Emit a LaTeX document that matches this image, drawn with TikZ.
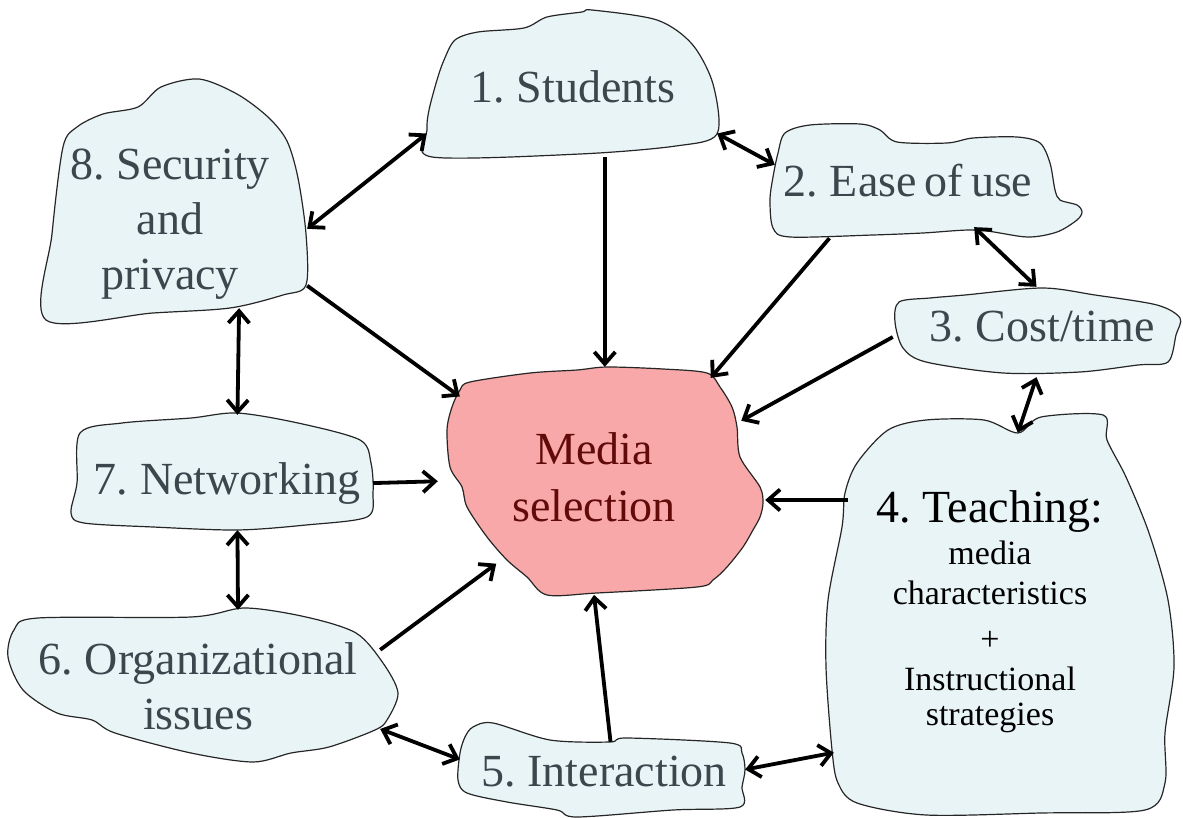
\documentclass[tikz,border=0pt]{standalone}
\usepackage{fontspec}
\setmainfont{Liberation Serif}
\usetikzlibrary{arrows.meta,shapes.geometric}
\definecolor{blobfill}{RGB}{233,244,246}
\definecolor{selfill}{RGB}{248,168,168}
\definecolor{labelgray}{RGB}{58,72,78}
\definecolor{seltext}{RGB}{98,10,10}
\newcommand{\lblspace}{\spaceskip=8pt plus 2pt\relax}

\begin{document}
\begin{tikzpicture}[x=1pt,y=-1pt,
  blob/.style={draw=black!85, line width=1.2pt, fill=blobfill},
  area/.style 2 args={rectangle, draw=none, inner sep=0pt, minimum width=#1, minimum height=#2},
  lbl/.style={text=labelgray, align=center, inner sep=0pt, font=\fontsize{46}{55}\selectfont\lblspace},
  link/.style={line width=3.8pt, -{Straight Barb[length=12pt,width=21pt]}},
  both/.style={line width=3.8pt, {Straight Barb[length=12pt,width=21pt]}-{Straight Barb[length=12pt,width=21pt]}}]
\useasboundingbox (0,0) rectangle (1183,818);
\draw[blob] plot[smooth cycle, tension=0.5] coordinates {(46,320) (52,234) (63,147) (77,127) (103,114) (138,107) (161,87) (199,79) (237,94) (268,117) (287,141) (298,178) (306,234) (306,285) (283,295) (230,308) (153,313)};
\draw[blob] plot[smooth cycle, tension=0.5] coordinates {(432,157) (427,130) (429,110) (437,80) (444,60) (455,40) (478,32) (524,28) (547,17) (582,12) (592,10) (657,20) (692,44) (713,84) (717,134) (676,146) (580,154)};
\draw[blob] plot[smooth cycle, tension=0.5] coordinates {(785,133) (810,125) (860,124) (880,130) (897,142) (947,143) (973,138) (1017,137) (1040,143) (1050,163) (1055,190) (1060,200) (1077,205) (1082,212) (1077,220) (1057,232) (1027,237) (977,230) (923,233) (873,235) (790,237) (773,228) (770,200) (773,177) (778,153)};
\draw[blob] plot[smooth cycle, tension=0.5] coordinates {(899,302) (930,298) (965,295) (1042,288) (1095,295) (1157,305) (1180,318) (1176,335) (1168,362) (1138,365) (1080,372) (1003,373) (926,362) (903,348) (895,322)};
\draw[blob] plot[smooth cycle, tension=0.5] coordinates {(845,493) (857,463) (888,430) (926,420) (984,420) (1018,433) (1041,417) (1103,415) (1107,440) (1126,477) (1149,533) (1168,600) (1174,667) (1165,733) (1165,783) (1145,810) (1041,813) (926,815) (857,803) (838,783) (832,750) (826,667) (828,600) (842,527)};
\draw[blob] plot[smooth cycle, tension=0.5] coordinates {(473,727) (493,723) (550,740) (610,742) (627,738) (730,743) (742,753) (745,770) (742,787) (740,807) (673,810) (577,817) (557,810) (507,802) (467,793) (458,780) (460,753) (465,737)};
\draw[blob] plot[smooth cycle, tension=0.5] coordinates {(38,618) (191,617) (245,608) (306,617) (356,633) (383,663) (398,693) (387,720) (375,730) (329,747) (291,753) (253,762) (191,753) (115,733) (92,720) (57,713) (23,690) (8,657) (14,630)};
\draw[blob] plot[smooth cycle, tension=0.5] coordinates {(80,433) (122,423) (191,418) (237,413) (298,423) (360,440) (371,463) (373,493) (367,517) (306,525) (237,530) (153,527) (84,523) (71,513) (77,483)};
\draw[blob, fill=selfill] plot[smooth cycle, tension=0.5] coordinates {(470,382) (530,373) (577,370) (607,367) (663,369) (707,373) (720,387) (732,407) (737,427) (740,457) (760,487) (763,503) (760,517) (753,530) (743,547) (727,567) (713,580) (697,587) (597,593) (547,595) (527,577) (507,560) (487,537) (467,507) (462,487) (450,467) (447,430) (452,407) (460,390)};
\node[area={263pt}{229pt}] (b8) at (175.5,193.5) {};
\node[area={290pt}{147pt}] (b1) at (572,83.5) {};
\node[area={307pt}{114pt}] (b2) at (928.5,181) {};
\node[area={287pt}{90pt}] (b3) at (1036.5,332) {};
\node[area={341pt}{382pt}] (b4) at (1004.5,624) {};
\node[area={285pt}{75pt}] (b5) at (602.5,779.5) {};
\node[area={372pt}{152pt}] (b6) at (194,686) {};
\node[area={302pt}{115pt}] (b7) at (222,472.5) {};
\node[ellipse, draw=none, inner sep=0pt, minimum width=318pt, minimum height=228pt] (sel) at (606,481) {};
\node[lbl] (l1) at (573,87) {1. Students};
\node[lbl] (l2) at (908,181) {2. Ease of use};
\node[lbl] (l3) at (1042,327) {3. Cost/time};
\node[lbl, text=black, font=\fontsize{34}{40}\selectfont\lblspace] (l4) at (990,612) {{\fontsize{46}{46}\selectfont 4. Teaching:}\\[2pt] media\\ characteristics\\[6pt] +\\ Instructional\\[-5pt] strategies};
\node[lbl] (l5) at (604,772) {5. Interaction};
\node[lbl] (l6) at (198,686) {6. Organizational\\ issues};
\node[lbl] (l7) at (227,484) {7. Networking};
\node[lbl] (l8) at (170,224) {8. Security\\ and\\ privacy};
\node[lbl, text=seltext, font=\fontsize{46}{57}\selectfont] (lsel) at (594,477) {Media\\ selection};
\draw[both] (b8.-15.9) -- (b1.199.2);
\draw[link] (b1.-66.5) -- (b1.-66.5 |- sel.north);
\draw[both] (b1.-19.9) -- (b2.174);
\draw[link, shorten >=15pt] (b2.210.1) -- (sel.44.5);
\draw[both, shorten <=-16pt] (b2.-45.3) -- (b3.north);
\draw[link] (b3.182) -- (sel.24.5);
\draw[both] (b3.south) -- (b4.86);
\draw[link, shorten <=-14pt] (b4.144.6) -- (b4.144.6 -| sel.east);
\draw[both] (b5.4.6) -- (b4.217.5);
\draw[link] (b5.78.7) -- (sel.264.4);
\draw[both] (b6.-13.3) -- (b5.172.2);
\draw[link] (b6.11.5) -- (sel.217.5);
\draw[link, shorten >=9pt] (b7.-4) -- (sel.west);
\draw[both] (b7.-75.4) -- (b6.60.5);
\draw[both] (b8.-61.8) -- (b7.75.4);
\draw[link, shorten >=25pt] (b8.-35.1) -- (sel.151.9);
\end{tikzpicture}
\end{document}
